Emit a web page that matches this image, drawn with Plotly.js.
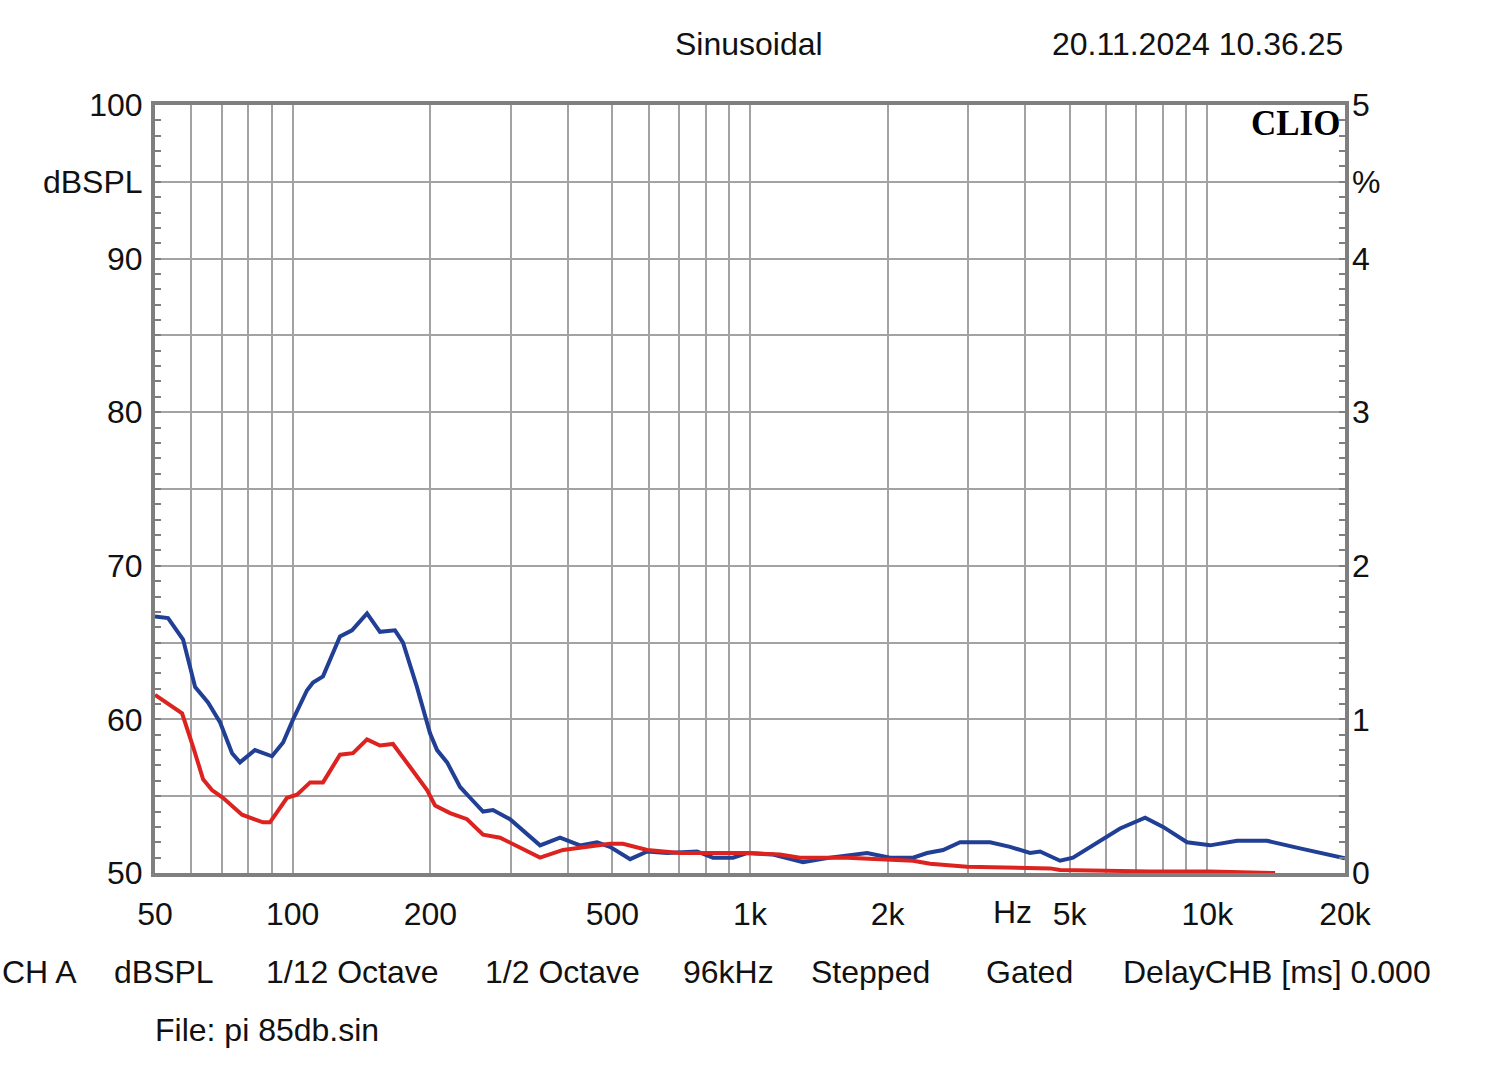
<!DOCTYPE html>
<html>
<head>
<meta charset="utf-8">
<script src="https://cdn.plot.ly/plotly-3.0.1.min.js"></script>
<style>html,body{margin:0;padding:0;background:#fff;}#chart{width:1500px;height:1074px;}</style>
</head>
<body>
<div id="chart"></div>
<script>
// Blue curve (frequency in Hz, level in dBSPL)
const blueFreq = [50, 53.4, 57.6, 61.2, 65.3, 69.4, 73.7, 76.7, 82.7, 90.1, 95.3, 100.2, 107.5, 110.8, 116.5, 126.9, 134.8, 145.4, 155.2, 167.4, 174.3, 187, 199.7, 206.9, 217.6, 232.3, 244.3, 260.8, 274.2, 298.7, 347.5, 384.2, 425, 463, 494, 547, 596, 659, 766, 830, 918, 985, 1123, 1306, 1496, 1803, 2024, 2273, 2439, 2644, 2880, 3349, 3704, 4096, 4308, 4764, 5085, 5827, 6444, 7311, 8004, 9029, 10139, 11614, 13507, 15946, 19810, 20000];
const blueDb   = [66.7, 66.6, 65.2, 62.1, 61.1, 59.8, 57.8, 57.2, 58.0, 57.6, 58.5, 60.0, 61.9, 62.4, 62.8, 65.4, 65.8, 66.9, 65.7, 65.8, 65.0, 62.1, 59.1, 58.0, 57.2, 55.6, 54.9, 54.0, 54.1, 53.5, 51.8, 52.3, 51.8, 52.0, 51.7, 50.9, 51.4, 51.3, 51.4, 51.0, 51.0, 51.3, 51.2, 50.7, 51.0, 51.3, 51.0, 51.0, 51.3, 51.5, 52.0, 52.0, 51.7, 51.3, 51.4, 50.8, 51.0, 52.1, 52.9, 53.6, 53.0, 52.0, 51.8, 52.1, 52.1, 51.6, 51.0, 50.95];

// Red curve
const redFreq = [50, 53.1, 57.3, 60.6, 63.7, 66.6, 70.4, 77.5, 80.6, 86.1, 89.2, 97.2, 102.2, 109.2, 116.5, 126.9, 135.5, 145.4, 155.2, 165.7, 180.6, 196.7, 204.8, 220.9, 240.6, 260.8, 284.1, 347.5, 390.1, 440.3, 494, 527.5, 596, 703, 985, 1163, 1286, 1630, 1925, 2273, 2476, 2983, 4530, 4764, 7496, 10139, 14065];
const redDb   = [61.6, 61.1, 60.4, 58.2, 56.1, 55.4, 54.9, 53.8, 53.6, 53.3, 53.3, 54.9, 55.1, 55.9, 55.9, 57.7, 57.8, 58.7, 58.3, 58.4, 56.9, 55.4, 54.4, 53.9, 53.5, 52.5, 52.3, 51.0, 51.5, 51.7, 51.9, 51.9, 51.5, 51.3, 51.3, 51.2, 51.0, 51.0, 50.9, 50.8, 50.6, 50.4, 50.3, 50.2, 50.1, 50.1, 50.0];

// Axis ticks
const xGridVals = [50,60,70,80,90,100,200,300,400,500,600,700,800,900,1000,2000,3000,4000,5000,6000,7000,8000,9000,10000,20000];
const xLabelMap = {50:'50',100:'100',200:'200',500:'500',1000:'1k',2000:'2k',5000:'5k',10000:'10k',20000:'20k'};
const yLeftVals = [50,55,60,65,70,75,80,85,90,95,100];
const yLeftText = ['50','','60','','70','','80','','90','dBSPL','100'];
const yRightVals = [0,1,2,3,4,4.5,5];
const yRightText = ['0','1','2','3','4','%','5'];

const FONT = 'Liberation Sans, Arial, sans-serif';
const FS = 32;
const GRID = '#a3a3a3';
const FRAME = '#7f7f7f';

const traces = [
  {x: blueFreq, y: blueDb, type: 'scatter', mode: 'lines', line: {color: '#213f94', width: 4}, hoverinfo: 'skip'},
  {x: redFreq, y: redDb, type: 'scatter', mode: 'lines', line: {color: '#dd2320', width: 4}, hoverinfo: 'skip'},
  {x: [50], y: [0], yaxis: 'y2', type: 'scatter', mode: 'markers', marker: {opacity: 0}, hoverinfo: 'skip'}
];

function note(text, xPix, yShift, anchor) {
  return {text: text, xref: 'paper', yref: 'paper', x: (xPix - 155) / 1190, y: 0, yshift: yShift,
          xanchor: anchor || 'left', yanchor: 'middle', showarrow: false, font: {size: FS}};
}

const layout = {
  width: 1500, height: 1074,
  margin: {l: 155, r: 155, t: 105, b: 201},
  paper_bgcolor: '#ffffff', plot_bgcolor: '#ffffff',
  showlegend: false,
  font: {family: FONT, size: FS, color: '#111111'},
  xaxis: {
    type: 'log', range: [Math.log10(50), Math.log10(20000)],
    tickmode: 'array', tickvals: xGridVals,
    ticktext: xGridVals.map(v => xLabelMap[v] || ''),
    ticks: '', ticklabelstandoff: 10,
    showgrid: true, gridcolor: GRID, gridwidth: 2,
    showline: true, mirror: true, linecolor: FRAME, linewidth: 4,
    zeroline: false, tickfont: {size: FS}
  },
  yaxis: {
    range: [50, 100], tickmode: 'array', tickvals: yLeftVals, ticktext: yLeftText,
    ticks: 'inside', ticklen: 6, tickcolor: FRAME, tickwidth: 2,
    minor: {tickmode: 'linear', tick0: 50, dtick: 1, ticks: 'inside', ticklen: 6, tickcolor: FRAME, tickwidth: 2, showgrid: false},
    showgrid: true, gridcolor: GRID, gridwidth: 2,
    showline: true, mirror: true, linecolor: FRAME, linewidth: 4,
    zeroline: false, ticklabelstandoff: 2, tickfont: {size: FS}
  },
  yaxis2: {
    overlaying: 'y', side: 'right', range: [0, 5],
    tickmode: 'array', tickvals: yRightVals, ticktext: yRightText,
    ticks: 'inside', ticklen: 6, tickcolor: FRAME, tickwidth: 2,
    minor: {tickmode: 'linear', tick0: 0, dtick: 0.1, ticks: 'inside', ticklen: 6, tickcolor: FRAME, tickwidth: 2, showgrid: false},
    showgrid: false, zeroline: false, showline: false,
    ticklabelstandoff: 6, tickfont: {size: FS}
  },
  annotations: [
    {text: 'Sinusoidal', xref: 'paper', yref: 'paper', x: (749 - 155) / 1190, y: 1, yshift: 61, xanchor: 'center', yanchor: 'middle', showarrow: false, font: {size: FS}},
    {text: '20.11.2024 10.36.25', xref: 'paper', yref: 'paper', x: 1, y: 1, yshift: 61, xanchor: 'right', yanchor: 'middle', showarrow: false, font: {size: FS}},
    {text: '<b>CLIO</b>', xref: 'paper', yref: 'paper', x: 1, xshift: -3, y: 1, yshift: -18, xanchor: 'right', yanchor: 'middle', showarrow: false, font: {family: 'Liberation Serif, Times New Roman, serif', size: 35, color: '#000'}},
    {text: 'Hz', xref: 'x', yref: 'paper', x: Math.log10(3750), y: 0, yshift: -39, xanchor: 'center', yanchor: 'middle', showarrow: false, font: {size: FS}},
    note('CH A', 0, -99),
    note('dBSPL', 112, -99),
    note('1/12 Octave', 264, -99),
    note('1/2 Octave', 483, -99),
    note('96kHz', 681, -99),
    note('Stepped', 809, -99),
    note('Gated', 984, -99),
    note('DelayCHB [ms] 0.000', 1121, -99),
    note('File: pi 85db.sin', 153, -157)
  ]
};

Plotly.newPlot('chart', traces, layout, {staticPlot: true, displayModeBar: false});
</script>
</body>
</html>
